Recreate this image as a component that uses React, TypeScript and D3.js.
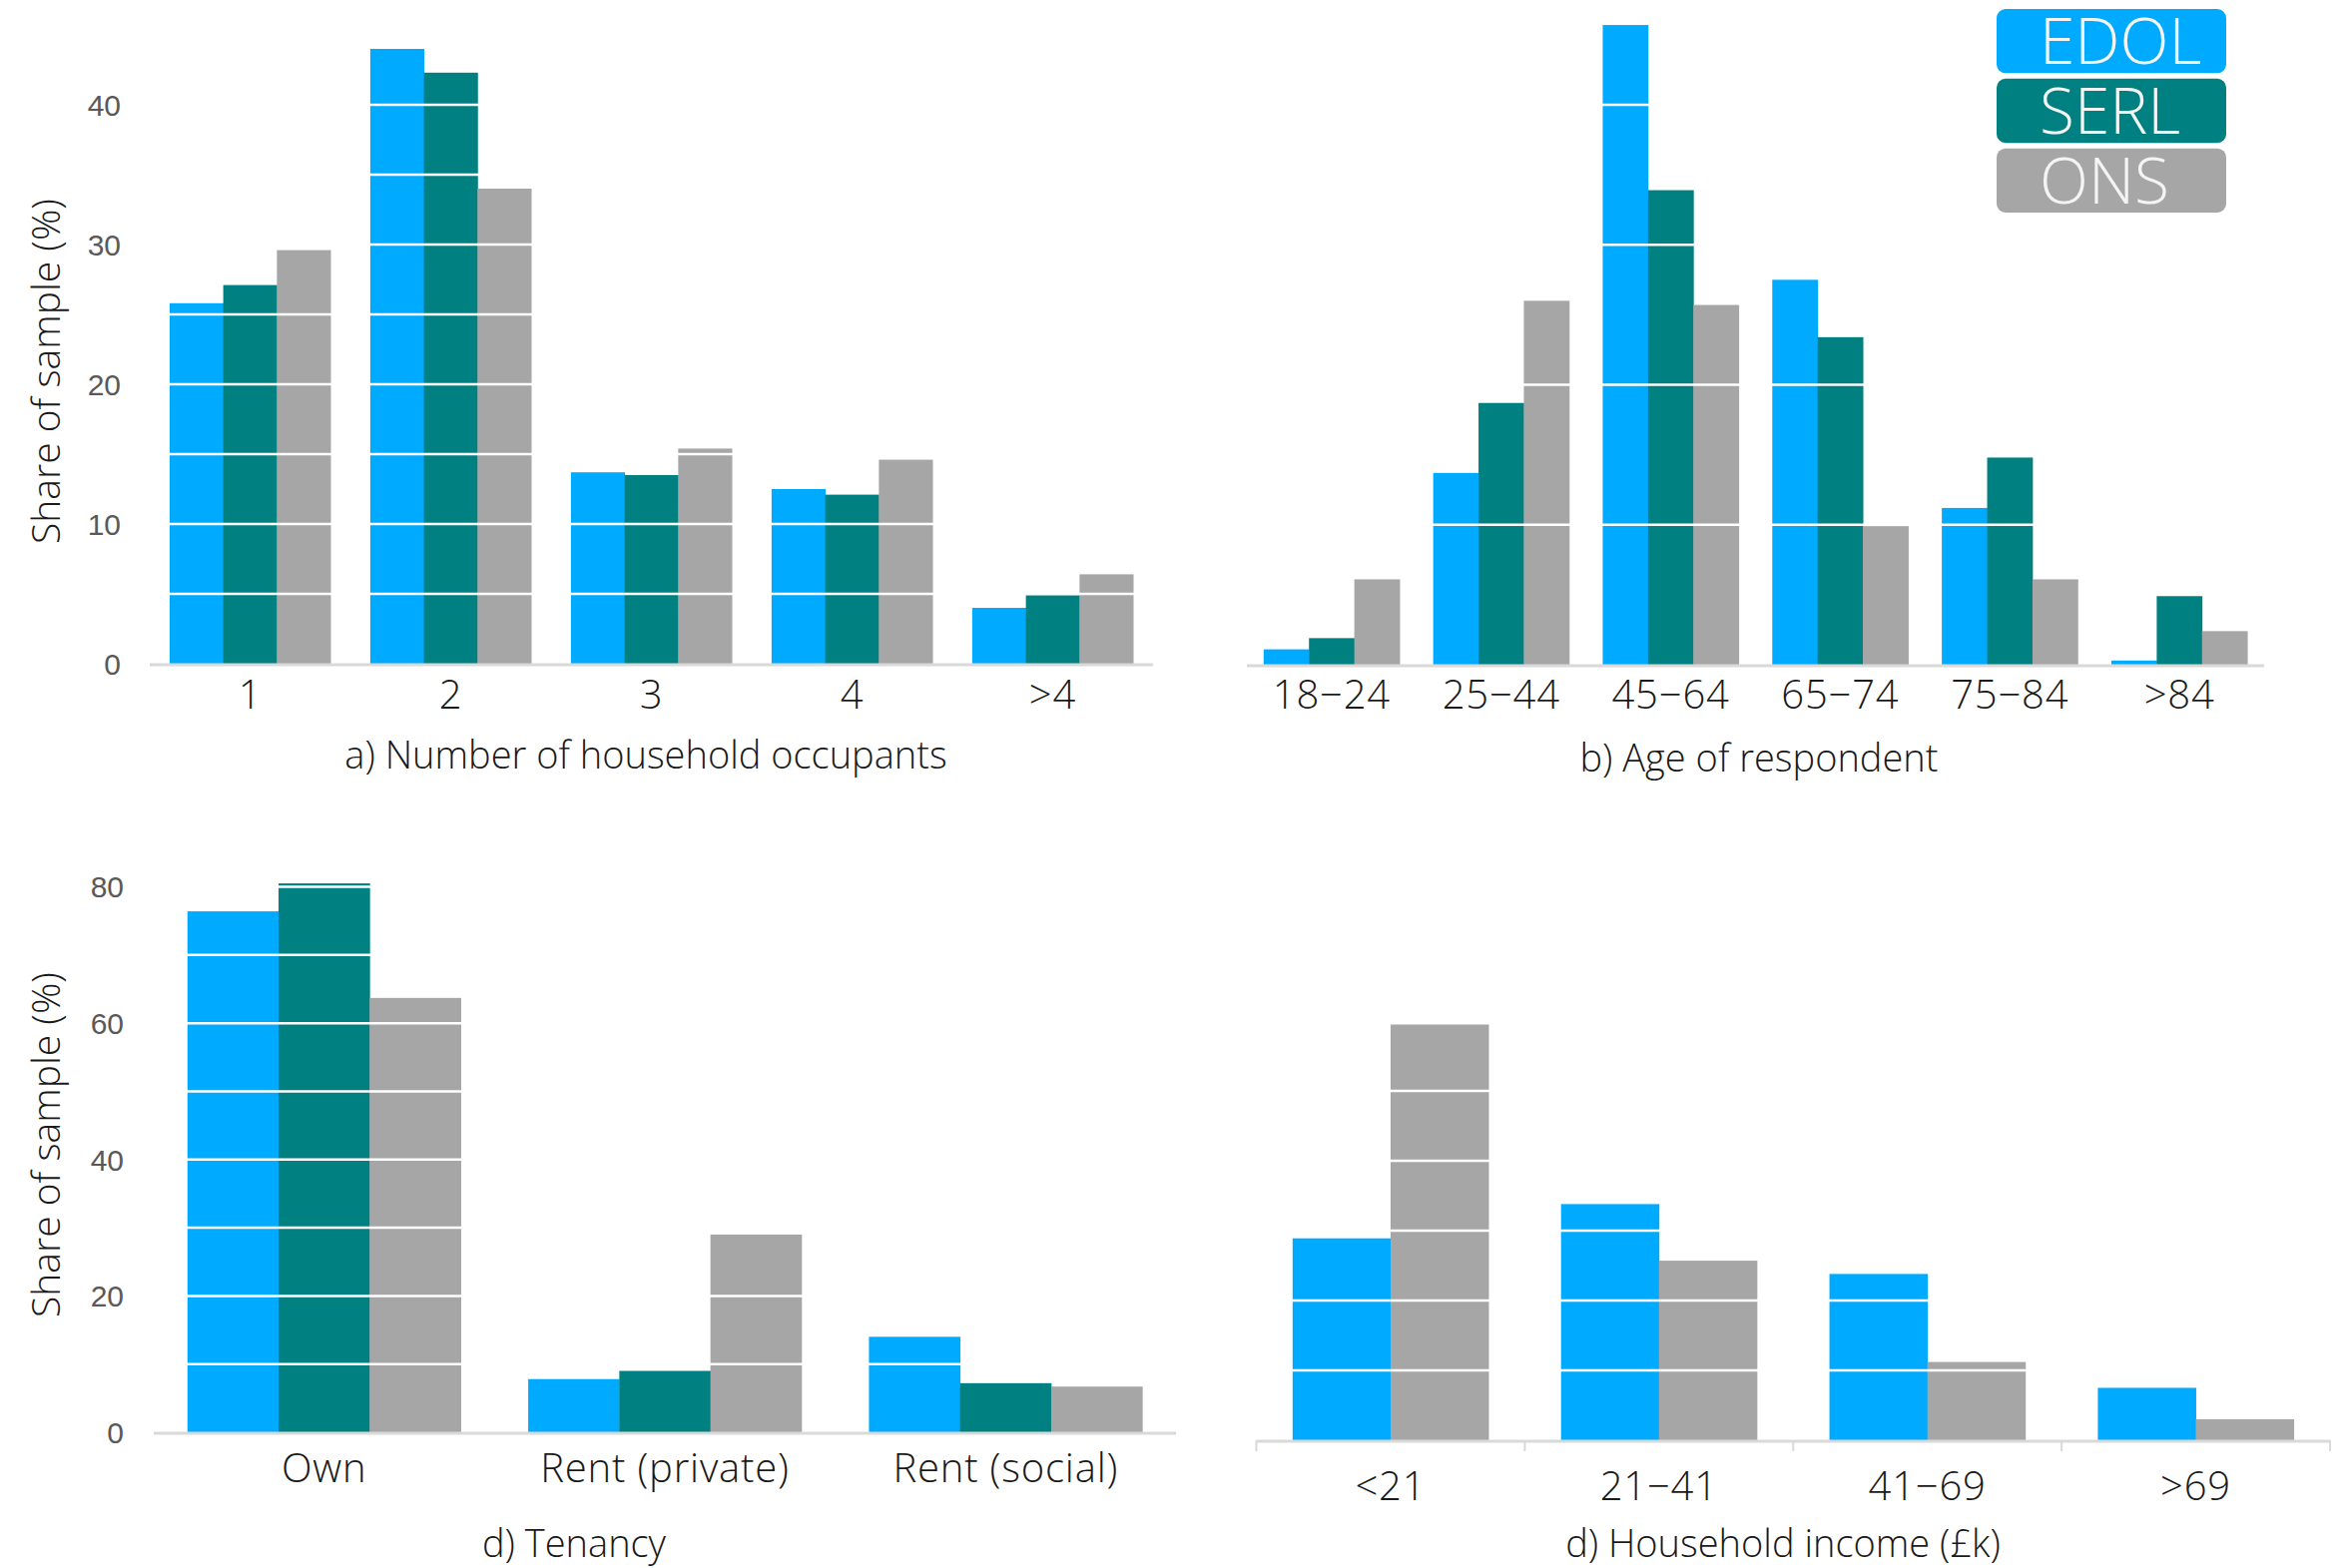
import * as d3 from "d3";

const SERIES_NAMES = ["EDOL", "SERL", "ONS"];
const SERIES_COLORS = ["#00AAFF", "#008080", "#A6A6A6"];

// a) household occupants
const occupantCats = ["1", "2", "3", "4", ">4"];
const occupantEdol = [25.8, 44.0, 13.7, 12.5, 4.0];
const occupantSerl = [27.1, 42.3, 13.5, 12.1, 4.9];
const occupantOns = [29.6, 34.0, 15.4, 14.6, 6.4];

// b) age of respondent
const ageCats = ["18−24", "25−44", "45−64", "65−74", "75−84", ">84"];
const ageEdol = [1.1, 13.7, 45.7, 27.5, 11.2, 0.3];
const ageSerl = [1.9, 18.7, 33.9, 23.4, 14.8, 4.9];
const ageOns = [6.1, 26.0, 25.7, 9.9, 6.1, 2.4];

// tenancy
const tenancyCats = ["Own", "Rent (private)", "Rent (social)"];
const tenancyEdol = [76.4, 7.8, 14.0];
const tenancySerl = [80.5, 9.0, 7.2];
const tenancyOns = [63.7, 29.0, 6.7];

// household income (no SERL data)
const incomeCats = ["<21", "21−41", "41−69", ">69"];
const incomeEdol = [28.9, 33.8, 23.8, 7.5];
const incomeOns = [59.5, 25.7, 11.2, 3.0];

const tickTopA = [0, 10, 20, 30, 40];
const tickTopC = [0, 20, 40, 60, 80];

const FONT = "'Open Sans', 'Noto Sans', sans-serif";
const TICK_FONT = "'Liberation Sans', Arial, sans-serif";
const TEXT_WEIGHT = 350;

type Series = { name: string; color: string; values: number[] };

type PanelProps = {
  cats: string[];
  series: Series[];
  x0: number;
  x1: number;
  yDomain: [number, number];
  yRange: [number, number];
  gridStep: number;
  gridMax: number;
  yTicks?: number[];
  yTickX?: number;
  yLabelY?: number;
  catLabelY: number;
  title: string;
  titleX: number;
  titleY: number;
  bandTicks?: boolean;
};

function Panel(p: PanelProps) {
  const x = d3.scaleBand<string>().domain(p.cats).range([p.x0, p.x1]).padding(0);
  const inner = d3
    .scaleBand<string>()
    .domain(p.series.map((s) => s.name))
    .range([0, x.bandwidth()])
    .paddingInner(0)
    .paddingOuter(0.37);
  const y = d3.scaleLinear().domain(p.yDomain).range(p.yRange);
  const grid = d3.range(p.gridStep, p.gridMax + 0.001, p.gridStep);
  const base = y(0);

  return (
    <g>
      {p.series.map((s) => (
        <g key={s.name}>
          {s.values.map((v, i) => (
            <rect
              key={i}
              x={(x(p.cats[i]) ?? 0) + (inner(s.name) ?? 0)}
              y={y(v)}
              width={inner.bandwidth() + 0.4}
              height={base - y(v)}
              fill={s.color}
            />
          ))}
        </g>
      ))}
      {grid.map((g) => (
        <line key={g} x1={p.x0} x2={p.x1} y1={y(g)} y2={y(g)} stroke="#fff" strokeWidth={2.5} />
      ))}
      <line x1={p.x0} x2={p.x1} y1={base + 1} y2={base + 1} stroke="#D9D9D9" strokeWidth={3} />
      {p.bandTicks &&
        [...p.cats.map((c) => x(c) ?? 0), p.x1].map((t, i) => (
          <line key={i} x1={t} x2={t} y1={base} y2={base + 11} stroke="#D9D9D9" strokeWidth={2} />
        ))}
      {p.yTicks &&
        p.yTicks.map((t) => (
          <text
            key={t}
            x={p.yTickX}
            y={y(t)}
            dy="0.36em"
            textAnchor="end"
            fontFamily={TICK_FONT}
            fontSize={30}
            fill="#595959"
          >
            {t}
          </text>
        ))}
      {p.yLabelY !== undefined && (
        <text
          transform={`translate(60,${p.yLabelY}) rotate(-90)`}
          textAnchor="middle"
          fontFamily={FONT}
          fontWeight={TEXT_WEIGHT}
          fontSize={39}
          fill="#1a1a1a"
        >
          Share of sample (%)
        </text>
      )}
      {p.cats.map((c) => (
        <text
          key={c}
          x={(x(c) ?? 0) + x.bandwidth() / 2}
          y={p.catLabelY}
          textAnchor="middle"
          fontFamily={FONT}
          fontWeight={TEXT_WEIGHT}
          fontSize={40}
          letterSpacing={0.8}
          fill="#1a1a1a"
        >
          {c}
        </text>
      ))}
      <text
        x={p.titleX}
        y={p.titleY}
        textAnchor="middle"
        fontFamily={FONT}
        fontWeight={TEXT_WEIGHT}
        fontSize={38}
        fill="#1a1a1a"
      >
        {p.title}
      </text>
    </g>
  );
}

function Legend() {
  const ly = d3.scaleBand<string>().domain(SERIES_NAMES).range([9, 213]).paddingInner(0.08);
  return (
    <g>
      {SERIES_NAMES.map((n, i) => (
        <g key={n}>
          <rect x={2000} y={ly(n)} width={230} height={ly.bandwidth()} rx={9} fill={SERIES_COLORS[i]} />
          <text
            x={2043}
            y={(ly(n) ?? 0) + ly.bandwidth() - 9}
            fontFamily={FONT}
            fontWeight={300}
            fontSize={64}
            fill="#F4F4F4"
          >
            {n}
          </text>
        </g>
      ))}
    </g>
  );
}

const mk = (vals: number[][], idx: number[]): Series[] =>
  vals.map((v, i) => ({ name: SERIES_NAMES[idx[i]], color: SERIES_COLORS[idx[i]], values: v }));

export default function App() {
  return (
    <svg
      width={2353}
      height={1571}
      style={{ position: "absolute", left: 0, top: 0, display: "block", background: "#fff" }}
    >
      <Panel
        cats={occupantCats}
        series={mk([occupantEdol, occupantSerl, occupantOns], [0, 1, 2])}
        x0={150}
        x1={1155}
        yDomain={[0, 40]}
        yRange={[665, 105]}
        gridStep={5}
        gridMax={45}
        yTicks={tickTopA}
        yTickX={121}
        yLabelY={372}
        catLabelY={710}
        title="a) Number of household occupants"
        titleX={647}
        titleY={770}
      />
      <Panel
        cats={ageCats}
        series={mk([ageEdol, ageSerl, ageOns], [0, 1, 2])}
        x0={1249}
        x1={2268}
        yDomain={[0, 40]}
        yRange={[666, 105]}
        gridStep={10}
        gridMax={40}
        catLabelY={710}
        title="b) Age of respondent"
        titleX={1762}
        titleY={773}
      />
      <Panel
        cats={tenancyCats}
        series={mk([tenancyEdol, tenancySerl, tenancyOns], [0, 1, 2])}
        x0={154}
        x1={1178}
        yDomain={[0, 80]}
        yRange={[1435, 888.5]}
        gridStep={10}
        gridMax={80}
        yTicks={tickTopC}
        yTickX={124}
        yLabelY={1147}
        catLabelY={1485}
        title="d) Tenancy"
        titleX={575}
        titleY={1560}
      />
      <Panel
        cats={incomeCats}
        series={mk([incomeEdol, incomeOns], [0, 2])}
        x0={1258.5}
        x1={2334}
        yDomain={[0, 10]}
        yRange={[1443, 1373]}
        gridStep={10}
        gridMax={50}
        catLabelY={1503}
        title="d) Household income (£k)"
        titleX={1786}
        titleY={1560}
        bandTicks
      />
      <Legend />
    </svg>
  );
}
